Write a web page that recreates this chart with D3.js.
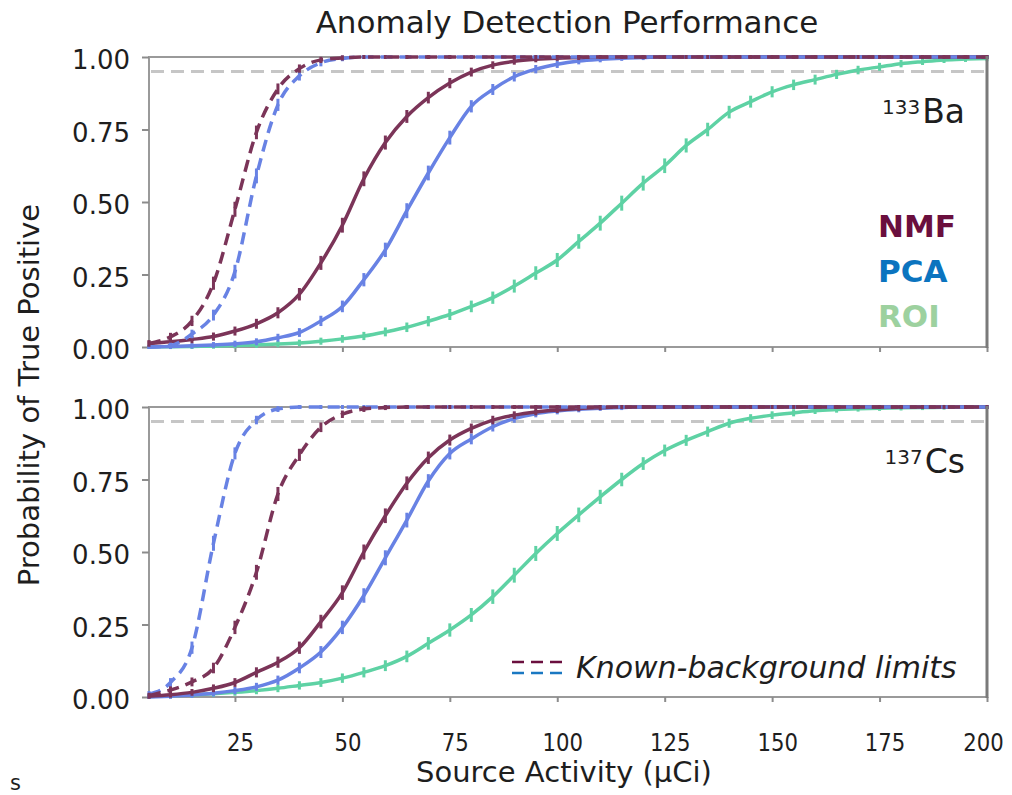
<!DOCTYPE html>
<html>
<head>
<meta charset="utf-8">
<script src="https://cdn.jsdelivr.net/npm/d3@7"></script>
<style>
body { margin: 0; background: #fff; }
text { font-family: "DejaVu Sans", sans-serif; fill: #1e1e1e; }
</style>
</head>
<body>
<svg width="1012" height="795"></svg>
<script>
// source activity grid (uCi) and tick values
const activity = [5, 10, 15, 20, 25, 30, 35, 40, 45, 50,
    55, 60, 65, 70, 75, 80, 85, 90, 95, 100,
    105, 110, 115, 120, 125, 130, 135, 140, 145, 150,
    155, 160, 165, 170, 175, 180, 185, 190, 195, 200];
const xTicks = [25, 50, 75, 100, 125, 150, 175, 200];
const yTicks = [0, 0.25, 0.5, 0.75, 1];
const threshold = 0.95;

// 133Ba panel
const baNmfKnown = [0.012, 0.035, 0.09, 0.22, 0.475, 0.74, 0.89, 0.96, 0.99, 0.997,
    1, 1, 1, 1, 1, 1, 1, 1, 1, 1,
    1, 1, 1, 1, 1, 1, 1, 1, 1, 1,
    1, 1, 1, 1, 1, 1, 1, 1, 1, 1];
const baPcaKnown = [0, 0.005, 0.045, 0.11, 0.26, 0.59, 0.835, 0.935, 0.98, 0.995,
    1, 1, 1, 1, 1, 1, 1, 1, 1, 1,
    1, 1, 1, 1, 1, 1, 1, 1, 1, 1,
    1, 1, 1, 1, 1, 1, 1, 1, 1, 1];
const baNmf = [0.012, 0.018, 0.026, 0.036, 0.055, 0.08, 0.118, 0.182, 0.29, 0.42,
    0.58, 0.705, 0.795, 0.86, 0.91, 0.948, 0.972, 0.985, 0.992, 0.996,
    0.998, 1, 1, 1, 1, 1, 1, 1, 1, 1,
    1, 1, 1, 1, 1, 1, 1, 1, 1, 1];
const baPca = [0, 0.002, 0.004, 0.007, 0.011, 0.018, 0.032, 0.05, 0.09, 0.14,
    0.232, 0.335, 0.47, 0.6, 0.722, 0.83, 0.888, 0.932, 0.958, 0.975,
    0.986, 0.992, 0.996, 0.998, 1, 1, 1, 1, 1, 1,
    1, 1, 1, 1, 1, 1, 1, 1, 1, 1];
const baRoi = [0, 0.001, 0.002, 0.003, 0.005, 0.007, 0.01, 0.014, 0.02, 0.028,
    0.038, 0.052, 0.068, 0.089, 0.112, 0.14, 0.17, 0.21, 0.255, 0.3,
    0.364, 0.427, 0.496, 0.565, 0.625, 0.695, 0.75, 0.81, 0.846, 0.88,
    0.904, 0.922, 0.94, 0.955, 0.966, 0.977, 0.984, 0.99, 0.993, 0.995];

// 137Cs panel
const csNmfKnown = [0.005, 0.024, 0.052, 0.1, 0.24, 0.43, 0.7, 0.835, 0.93, 0.975,
    0.993, 0.998, 1, 1, 1, 1, 1, 1, 1, 1,
    1, 1, 1, 1, 1, 1, 1, 1, 1, 1,
    1, 1, 1, 1, 1, 1, 1, 1, 1, 1];
const csPcaKnown = [0.01, 0.05, 0.17, 0.53, 0.84, 0.955, 0.993, 1, 1, 1,
    1, 1, 1, 1, 1, 1, 1, 1, 1, 1,
    1, 1, 1, 1, 1, 1, 1, 1, 1, 1,
    1, 1, 1, 1, 1, 1, 1, 1, 1, 1];
const csNmf = [0.003, 0.008, 0.016, 0.03, 0.05, 0.085, 0.12, 0.17, 0.26, 0.36,
    0.5, 0.625, 0.737, 0.825, 0.886, 0.926, 0.955, 0.972, 0.983, 0.99,
    0.995, 0.998, 1, 1, 1, 1, 1, 1, 1, 1,
    1, 1, 1, 1, 1, 1, 1, 1, 1, 1];
const csPca = [0, 0.003, 0.007, 0.013, 0.022, 0.035, 0.058, 0.1, 0.155, 0.24,
    0.35, 0.48, 0.61, 0.745, 0.84, 0.89, 0.932, 0.96, 0.977, 0.986,
    0.992, 0.996, 0.998, 1, 1, 1, 1, 1, 1, 1,
    1, 1, 1, 1, 1, 1, 1, 1, 1, 1];
const csRoi = [0.002, 0.004, 0.007, 0.011, 0.016, 0.022, 0.03, 0.04, 0.05, 0.065,
    0.085, 0.108, 0.14, 0.185, 0.231, 0.283, 0.346, 0.42, 0.495, 0.564,
    0.628, 0.69, 0.75, 0.805, 0.85, 0.885, 0.915, 0.944, 0.961, 0.972,
    0.98, 0.987, 0.991, 0.994, 0.996, 0.997, 0.998, 0.999, 1, 1];

const methods = ["NMF", "PCA", "ROI"];
const methodText = ["#6a0f3e", "#0b74bf", "#9dd19f"];
const lineColor = {NMF: "#7b3458", PCA: "#6882e4", ROI: "#5ed2a4"};

const panels = [
    {iso: "133", elem: "Ba", top: 57, bottom: 347, series: [
        {m: "ROI", v: baRoi, dash: false},
        {m: "PCA", v: baPca, dash: false},
        {m: "NMF", v: baNmf, dash: false},
        {m: "PCA", v: baPcaKnown, dash: true},
        {m: "NMF", v: baNmfKnown, dash: true}]},
    {iso: "137", elem: "Cs", top: 407, bottom: 697, series: [
        {m: "ROI", v: csRoi, dash: false},
        {m: "PCA", v: csPca, dash: false},
        {m: "NMF", v: csNmf, dash: false},
        {m: "PCA", v: csPcaKnown, dash: true},
        {m: "NMF", v: csNmfKnown, dash: true}]}
];

const svg = d3.select("svg");
const left = 149, right = 987;

const x = d3.scaleLinear().domain([5, 200]).range([left, right]);

// error-bar half length grows with binomial spread
const barHalf = p => 2 + 11 * Math.sqrt(p * (1 - p));

panels.forEach((p, pi) => {
    const y = d3.scaleLinear().domain([0, 1]).range([p.bottom, p.top]);
    const g = svg.append("g");

    // frame
    g.append("rect")
        .attr("x", left).attr("y", p.top)
        .attr("width", right - left).attr("height", p.bottom - p.top)
        .attr("fill", "#fff").attr("stroke", "#9a9a9a").attr("stroke-width", 2);

    // 0.95 reference
    g.append("line")
        .attr("x1", left + 2).attr("x2", right - 2)
        .attr("y1", y(threshold)).attr("y2", y(threshold))
        .attr("stroke", "#c6c6c6").attr("stroke-width", 3)
        .attr("stroke-dasharray", "13,7");

    const yAxis = g.append("g")
        .attr("transform", `translate(${left},0)`)
        .call(d3.axisLeft(y).tickValues(yTicks).tickFormat(d3.format(".2f"))
            .tickSize(7).tickPadding(12));
    yAxis.select(".domain").remove();
    yAxis.selectAll("line").attr("stroke", "#8c8c8c").attr("stroke-width", 2);
    yAxis.selectAll("text").attr("font-size", 26).attr("dy", "0.45em")
        .attr("fill", "#1e1e1e");

    const xAxis = g.append("g")
        .attr("transform", `translate(0,${p.bottom})`)
        .call(d3.axisBottom(x).tickValues(xTicks).tickSize(5).tickPadding(31));
    xAxis.select(".domain").remove();
    xAxis.selectAll("line").attr("stroke", "#8c8c8c").attr("stroke-width", 2);
    if (pi === 0) xAxis.selectAll("text").remove();
    else xAxis.selectAll("text")
        .attr("font-size", 25)
        .attr("dx", d => d === 200 ? -4 : 5)
        .attr("textLength", d => String(d).length * 13.5)
        .attr("lengthAdjust", "spacingAndGlyphs")
        .attr("fill", "#1e1e1e");

    const line = d3.line()
        .x((d, i) => x(activity[i]))
        .y(d => y(d))
        .curve(d3.curveMonotoneX);

    p.series.forEach(s => {
        const c = lineColor[s.m];
        g.append("path")
            .datum(s.v)
            .attr("d", line)
            .attr("fill", "none")
            .attr("stroke", c)
            .attr("stroke-width", 3.5)
            .attr("stroke-dasharray", s.dash ? "12,7" : null);
        g.append("g").selectAll("line")
            .data(s.v)
            .join("line")
            .attr("x1", (d, i) => x(activity[i]))
            .attr("x2", (d, i) => x(activity[i]))
            .attr("y1", d => y(d) - barHalf(d))
            .attr("y2", d => y(d) + barHalf(d))
            .attr("stroke", c)
            .attr("stroke-width", 3);
    });

    // right edge shade
    g.append("line")
        .attr("x1", right).attr("x2", right)
        .attr("y1", p.top - 1).attr("y2", p.bottom + 1)
        .attr("stroke", "#7a7a7a").attr("stroke-width", 3);

    // isotope label
    const lab = g.append("text")
        .attr("x", 965).attr("y", p.top + 66)
        .attr("text-anchor", "end");
    lab.append("tspan").attr("font-size", 20).attr("dy", -9).text(p.iso);
    lab.append("tspan").attr("font-size", 33).attr("dy", 9).attr("dx", 2).text(p.elem);
});

// method legend (top panel)
svg.append("g").selectAll("text")
    .data(methods)
    .join("text")
    .attr("x", 878)
    .attr("y", (d, i) => 237 + i * 45)
    .attr("font-size", 31)
    .attr("font-weight", "bold")
    .style("fill", (d, i) => methodText[i])
    .text(d => d);

// known-background legend (bottom panel)
const kb = svg.append("g");
[["#6a0f3e", 662], ["#1a78c2", 673]].forEach(([c, yy]) => {
    kb.append("line")
        .attr("x1", 512).attr("x2", 563)
        .attr("y1", yy).attr("y2", yy)
        .attr("stroke", c).attr("stroke-width", 2.5)
        .attr("stroke-dasharray", "12,7");
});
kb.append("text")
    .attr("x", 576).attr("y", 678)
    .attr("font-size", 30).attr("font-style", "italic")
    .text("Known-background limits");

// titles
svg.append("text")
    .attr("x", 567).attr("y", 33)
    .attr("text-anchor", "middle").attr("font-size", 31)
    .text("Anomaly Detection Performance");

svg.append("text")
    .attr("transform", "translate(39,395) rotate(-90)")
    .attr("text-anchor", "middle").attr("font-size", 29)
    .text("Probability of True Positive");

svg.append("text")
    .attr("x", 564).attr("y", 782)
    .attr("text-anchor", "middle").attr("font-size", 29)
    .text("Source Activity (\u03bcCi)");

svg.append("text")
    .attr("x", 10).attr("y", 790)
    .attr("font-size", 21)
    .text("s");
</script>
</body>
</html>
